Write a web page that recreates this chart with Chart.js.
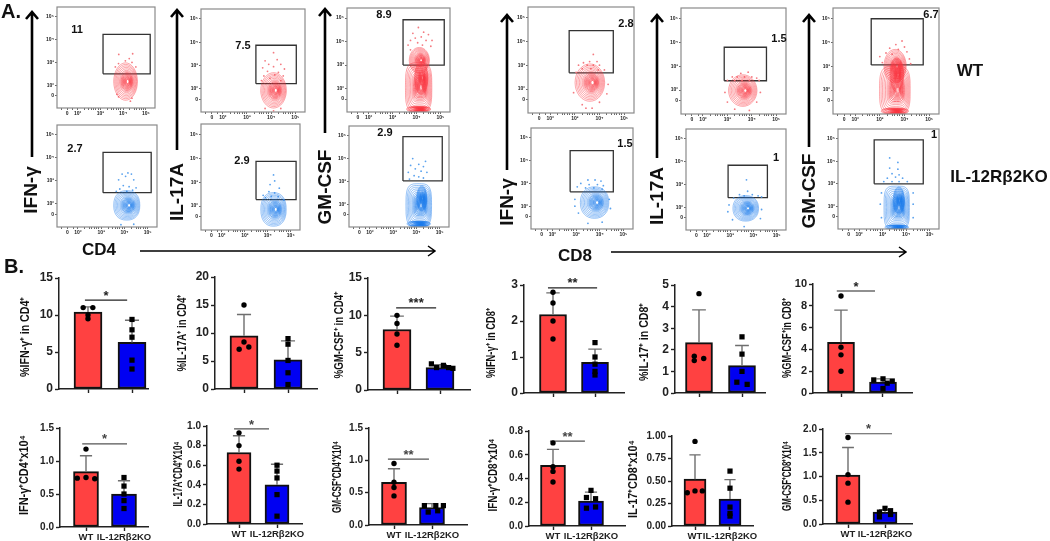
<!DOCTYPE html>
<html>
<head>
<meta charset="utf-8">
<title>Flow cytometry and bar panels</title>
<script src="https://cdn.jsdelivr.net/npm/chart.js@4/dist/chart.umd.min.js"></script>
<style>
  html, body { margin: 0; padding: 0; background: #fff; overflow: hidden; }
  /* the figure is a soft, upscaled raster, so everything gets a slight blur */
  #stage { position: relative; width: 1050px; height: 541px; font-family: 'Liberation Sans', Arial, sans-serif; filter: blur(0.4px); }
  #stage canvas { position: absolute; }
  #stage svg { position: absolute; left: 0; top: 0; }
  .lbl { position: absolute; font-weight: bold; color: #111; white-space: nowrap; }
</style>
</head>
<body>
<div id="stage">
  <svg width="1050" height="541" fill="none" stroke="#000" id="arrows"></svg>
</div>
<script>
// ---- bar panels (B.) ----
const yTitles = ['%IFN-γ⁺ in CD4⁺', '%IL-17A⁺ in CD4⁺', '%GM-CSF⁺ in CD4⁺', '%IFN-γ⁺ in CD8⁺', '%IL-17⁺ in CD8⁺', '%GM-CSF⁺in CD8⁺',
    'IFN-γ⁺CD4⁺x10⁴', 'IL-17A⁺CD4⁺X10⁴', 'GM-CSF⁺CD4⁺X10⁴', 'IFN-γ⁺CD8⁺x10⁴', 'IL-17⁺CD8⁺x10⁴', 'GM-CSF⁺CD8⁺X10⁴'];
const yTickLabels = [
    ['0', '5', '10', '15'], ['0', '5', '10', '15', '20'], ['0', '5', '10', '15'],
    ['0', '1', '2', '3'], ['0', '1', '2', '3', '4', '5'], ['0', '2', '4', '6', '8', '10'],
    ['0.0', '0.5', '1.0', '1.5'], ['0.0', '0.2', '0.4', '0.6', '0.8', '1.0'], ['0.0', '0.5', '1.0', '1.5'],
    ['0.0', '0.2', '0.4', '0.6', '0.8'], ['0.00', '0.25', '0.50', '0.75', '1.00'], ['0.0', '0.5', '1.0', '1.5', '2.0']
];
const groupLabels = ['WT', 'IL-12Rβ2KO'];
const wtMeans = [10.4, 9.5, 8.1, 2.18, 2.33, 4.65, 0.84, 0.73, 0.66, 0.51, 0.52, 1.03];
const koMeans = [6.3, 5.2, 3.0, 0.85, 1.27, 1.0, 0.5, 0.4, 0.27, 0.21, 0.3, 0.25];
const wtErrTop = [11.1, 13.3, 9.9, 2.78, 3.85, 7.6, 1.08, 0.9, 0.87, 0.645, 0.79, 1.61];
const koErrTop = [9.3, 8.6, 3.4, 1.22, 2.2, 1.3, 0.7, 0.61, 0.33, 0.285, 0.515, 0.3];
const wtPoints = [
    [11, 11, 10, 9.5], [15, 8.4, 7.5, 7.1], [10, 8.9, 7.5, 6], [2.8, 2.5, 2.0, 1.5], [4.6, 1.7, 1.6, 1.5], [8.9, 4.2, 3.5, 2.0],
    [1.18, 0.75, 0.74, 0.73], [0.93, 0.8, 0.64, 0.56], [0.95, 0.66, 0.58, 0.45], [0.7, 0.5, 0.46, 0.37], [0.94, 0.39, 0.39, 0.37], [1.82, 1.04, 0.86, 0.46]
];
const wtOffsets = [
    [-0.11, 0.11, 0, 0], [0, 0, 0.11, -0.11], [0, 0, 0, 0], [0, 0, 0, 0], [0, -0.11, 0.11, -0.11], [0, 0, 0, 0],
    [0, 0, -0.23, 0.23], [0, 0, 0, 0], [0, 0, 0, 0], [0, 0, 0, 0], [0, 0, 0.21, -0.22], [0, 0, 0, 0]
];
const koPoints = [
    [9.4, 8.0, 7.0, 3.9, 2.7], [9, 8, 5.1, 2.9, 0.8], [3.5, 3.3, 3.0, 3.0, 2.9], [1.4, 1.0, 0.8, 0.6, 0.5], [2.6, 1.8, 1.0, 0.5, 0.4], [1.3, 1.2, 1.1, 0.9, 0.4],
    [0.75, 0.62, 0.5, 0.4, 0.28], [0.6, 0.54, 0.47, 0.3, 0.08], [0.3, 0.3, 0.3, 0.22, 0.2], [0.3, 0.24, 0.23, 0.16, 0.15], [0.61, 0.42, 0.21, 0.14, 0.11], [0.33, 0.28, 0.25, 0.2, 0.15]
];
const koOffsets = [
    [0, 0, 0, 0, 0], [0, 0, 0, 0, 0], [-0.2, 0.08, -0.08, 0.2, 0.3], [0, 0, 0, 0, 0], [0, 0, 0, -0.12, 0.12], [0, -0.22, 0.22, 0.1, 0],
    [0, 0, 0, 0, 0], [0, 0, 0, 0, 0], [-0.2, 0.1, 0.3, 0.15, -0.1], [0, -0.12, 0.12, 0.12, -0.12], [0, 0, 0, 0, 0], [0, 0.15, -0.15, 0.15, -0.15]
];
const sigLines = [[-0.07, 0.89, 12.0], null, [-0.02, 0.91, 11], [-0.12, 1.05, 2.92], null, [-0.1, 0.81, 9.36],
    [-0.1, 1.08, 1.26], [-0.13, 0.79, 0.97], [-0.16, 0.92, 1.02], [-0.08, 0.84, 0.715], null, [-0.08, 1.19, 1.9]];
const sigMarks = ['*', '', '***', '**', '', '*', '*', '*', '**', '**', '', '*'];

// ---- contour panels (A.), all in decades of the biexponential axis ----
const flowTickValues = [1.55, 2, 3, 4, 5];
const flowTickLabels = ['0', '10²', '10³', '10⁴', '10⁵'];
const flowMinorTicks = [1.3, 1.8, 2.3, 2.5, 2.6, 2.7, 2.8, 2.9, 3.3, 3.5, 3.6, 3.7, 3.8, 3.9, 4.3, 4.5, 4.6, 4.7, 4.8, 4.9];
const flowPercents = ['11', '7.5', '8.9', '2.7', '2.9', '2.9', '2.8', '1.5', '6.7', '1.5', '1', '1'];
const flowGates = [
    [3.12, 5.19, 2.5, 4.23], [3.37, 5.04, 2.22, 3.87], [3.44, 5.16, 3.0, 4.93],
    [3.08, 5.15, 2.49, 4.24], [3.49, 5.23, 2.27, 3.87], [3.42, 5.11, 3.02, 4.96],
    [2.77, 4.56, 2.68, 4.44], [2.87, 4.6, 2.39, 3.79], [2.65, 4.76, 3.05, 4.98],
    [2.75, 4.57, 2.63, 4.44], [2.91, 4.6, 2.42, 3.84], [2.64, 4.73, 3.0, 4.95]
];
// one entry per contour family: centre x, centre y, radius x, radius y, squareness
const flowContours = [
    [[4.11, 2.16, 0.52, 0.82, 1]],
    [[4.1, 1.93, 0.53, 0.76, 1]],
    [[4.09, 2.05, 0.55, 1.05, 0.55], [4.12, 3.2, 0.42, 0.55, 1], [4.2, 2.45, 0.28, 0.7, 1], [4.09, 1.12, 0.5, 0.12, 0.8]],
    [[4.1, 1.94, 0.56, 0.64, 0.85]],
    [[4.25, 1.86, 0.55, 0.7, 0.85]],
    [[4.1, 1.95, 0.55, 0.95, 0.55], [4.23, 2.25, 0.22, 0.55, 1], [4.1, 1.14, 0.5, 0.12, 0.8]],
    [[3.61, 2.27, 0.6, 0.78, 1]],
    [[3.63, 1.98, 0.58, 0.66, 1]],
    [[3.61, 2.0, 0.62, 1.0, 0.55], [3.62, 3.0, 0.45, 0.7, 1], [3.69, 2.64, 0.28, 0.7, 1], [3.61, 1.12, 0.55, 0.13, 0.8]],
    [[3.78, 2.16, 0.6, 0.69, 0.9]],
    [[3.67, 1.95, 0.55, 0.56, 0.9]],
    [[3.6, 1.95, 0.54, 0.95, 0.5], [3.69, 2.26, 0.24, 0.6, 1], [3.6, 1.08, 0.5, 0.1, 0.8]]
];
const flowDots = [
    [[3.81, 3.35], [4.42, 3.38], [4.27, 3.17], [4.1, 3.07], [3.8, 2.95], [4.39, 3.0], [4.56, 2.8], [3.66, 2.8], [3.8, 1.49], [3.73, 1.6], [4.39, 1.43], [4.32, 1.3]],
    [[4.1, 3.55], [3.75, 3.2], [4.25, 3.25], [3.9, 3.05], [4.4, 3.05], [3.65, 2.9], [4.1, 2.95], [4.55, 2.85], [3.85, 2.75], [4.3, 2.7], [3.7, 2.55], [4.15, 2.6], [4.5, 2.55], [3.95, 2.45], [3.6, 2.35], [4.4, 2.35], [4.1, 1.05], [3.75, 1.15], [4.4, 1.15]],
    [[4.08, 4.6], [4.3, 4.4], [3.85, 4.35], [4.5, 4.3], [3.95, 4.15], [4.2, 4.2], [4.65, 4.05], [3.75, 4.05], [4.4, 4.05], [4.05, 3.95], [3.65, 3.85], [4.6, 3.8], [3.75, 3.65], [4.25, 3.85]],
    [[3.9, 3.3], [4.15, 3.35], [4.3, 3.3], [4.05, 3.2], [3.75, 3.05], [4.4, 3.05], [3.95, 2.8], [4.2, 2.75], [4.5, 2.7], [3.8, 2.65], [4.35, 2.6], [3.65, 2.55], [4.1, 2.55], [3.85, 1.1], [4.4, 1.12]],
    [[4.25, 3.3], [4.3, 3.05], [4.1, 2.9], [4.5, 2.75], [4.05, 2.6], [4.3, 2.55], [3.8, 2.45], [4.15, 2.4], [4.45, 2.4], [3.9, 2.35], [4.7, 2.25]],
    [[3.84, 4.0], [4.39, 3.88], [4.1, 3.75], [3.75, 3.7], [4.3, 3.65], [3.95, 3.55], [4.2, 3.45], [3.65, 3.4], [4.45, 3.4], [3.9, 3.25], [4.1, 3.2], [4.3, 3.15], [3.7, 3.1]],
    [[3.75, 3.45], [3.6, 3.15], [3.35, 3.1], [3.9, 3.15], [3.15, 3.0], [3.5, 3.0], [3.75, 3.0], [4.0, 3.0], [3.3, 2.85], [3.65, 2.85], [3.95, 2.8], [4.2, 2.8], [3.05, 2.7], [3.45, 1.2], [3.7, 1.2], [3.3, 1.35], [4.0, 1.45], [2.95, 1.85], [4.35, 2.2], [4.3, 1.8]],
    [[3.55, 2.7], [3.85, 2.75], [3.2, 2.55], [3.4, 2.55], [3.7, 2.55], [4.0, 2.55], [4.2, 2.5], [3.0, 2.4], [3.3, 2.4], [3.6, 2.4], [3.9, 2.4], [4.3, 2.4], [2.9, 1.9], [4.35, 1.9], [3.0, 1.5], [4.2, 1.5], [3.3, 1.2], [3.9, 1.15]],
    [[3.9, 4.05], [3.65, 3.9], [4.0, 3.8], [3.4, 3.75], [3.75, 3.7], [3.25, 3.55], [4.1, 3.6], [3.5, 3.5], [3.0, 3.4], [4.2, 3.3], [3.1, 3.15], [4.25, 3.1]],
    [[3.5, 3.15], [3.8, 3.15], [4.05, 3.1], [3.2, 3.0], [3.55, 2.95], [3.9, 2.95], [4.15, 2.9], [3.05, 2.85], [3.4, 2.8], [3.75, 2.8], [4.1, 2.75], [2.95, 2.3], [4.4, 2.3], [2.95, 2.0], [4.45, 1.9], [3.1, 1.7], [3.5, 1.25], [4.1, 1.3]],
    [[3.7, 3.2], [3.75, 2.7], [3.4, 2.55], [3.6, 2.5], [3.95, 2.55], [4.2, 2.5], [3.15, 2.4], [4.35, 2.45], [2.95, 2.1], [2.9, 1.8], [4.35, 1.9], [3.1, 1.45], [4.3, 1.5], [3.6, 1.15]],
    [[3.3, 4.15], [3.65, 3.95], [3.3, 3.7], [3.65, 3.65], [3.4, 3.45], [3.7, 3.4], [3.2, 3.25], [3.55, 3.3], [3.85, 3.25], [3.05, 3.1], [3.4, 3.1], [3.7, 3.1], [4.05, 3.1], [2.95, 2.6], [4.3, 2.6], [2.9, 2.1], [4.3, 2.1], [2.95, 1.5], [4.3, 1.5]]
];
const ringScale = [1, 0.92, 0.84, 0.76, 0.68, 0.6, 0.54, 0.48, 0.42, 0.37, 0.32, 0.27, 0.23, 0.19, 0.15, 0.11];

// ---- layout, page pixels ----
// axis x, right end, y of top tick, y of zero, bar centres, bar width, tick font, title x, title y, title length
const barLayout = [
    [59, 148, 278, 389, 88, 132, 28, 12, 26, 337, 80], [215, 317, 277, 389, 244, 288, 28, 12, 183, 333, 77], [368, 470, 278, 390, 397, 440, 28, 12, 340, 335, 87],
    [524, 624, 285, 393, 553, 595, 27, 12, 492, 343, 70], [675, 765, 285, 393, 699, 742, 27, 12, 645, 342, 78], [813, 912, 284, 393, 841, 883, 27, 11, 788, 338, 80],
    [60, 148, 428, 527, 86, 124, 25, 10, 25, 475, 80], [207, 302, 426, 524, 239, 277, 24, 10, 179, 474, 65], [369, 467, 428, 525, 394, 432, 25, 10, 338, 477, 72],
    [529, 625, 431, 526, 553, 591, 25, 10, 494, 475, 73], [672, 753, 436, 526, 695, 730, 22, 10, 634, 479, 78], [823, 912, 429, 524, 848, 885, 24, 10, 788, 476, 70]
];
// left, top, width, height of the plot box
const flowBoxes = [
    [57, 5, 100, 103], [201, 7, 106, 105], [347, 6, 105, 106],
    [57, 123, 102, 104], [201, 122, 101, 108], [349, 124, 102, 103],
    [528, 5, 108, 108], [681, 6, 107, 108], [833, 6, 108, 108],
    [531, 126, 104, 103], [686, 127, 102, 103], [838, 127, 103, 102]
];
const percentPos = [[77, 29], [243, 45], [384, 14], [75, 148], [242, 160], [385, 132], [626, 23], [779, 38], [931, 14], [625, 143], [776, 157], [934, 134]];
// text, centre x, centre y, font size, rotated
const pageLabels = [
    ['A.', 11, 11, 20, false], ['B.', 14, 266, 20, false],
    ['IFN-γ', 31, 190, 19, true], ['IL-17A', 177, 192, 19, true], ['GM-CSF', 325, 187, 19, true],
    ['IFN-γ', 507, 202, 19, true], ['IL-17A', 657, 196, 19, true], ['GM-CSF', 809, 191, 19, true],
    ['CD4', 99, 250, 17, false], ['CD8', 575, 256, 17, false],
    ['WT', 970, 71, 17, false], ['IL-12Rβ2KO', 999, 177, 17, false]
];
const upArrows = [[32, 157, 12], [177, 150, 10], [325, 133, 9], [507, 170, 15], [657, 158, 15], [809, 147, 15]];
const rightArrows = [[140, 435, 251], [611, 906, 252]];

const stage = document.getElementById('stage');
const FONT = "'Liberation Sans', Arial, sans-serif";
// a tiny tension keeps Chart.js off its fast path, which assumes points sorted on x
const CLOSED_PATH_TENSION = 0.0001;
Chart.defaults.font.family = FONT;
Chart.defaults.animation = false;

function addCanvas(left, top, width, height) {
    const c = document.createElement('canvas');
    c.width = width;
    c.height = height;
    c.style.left = left + 'px';
    c.style.top = top + 'px';
    c.style.width = width + 'px';
    c.style.height = height + 'px';
    stage.appendChild(c);
    return c;
}

function addLabel(text, x, y, size, rotated) {
    const d = document.createElement('div');
    d.className = 'lbl';
    d.textContent = text;
    d.style.left = x + 'px';
    d.style.top = y + 'px';
    d.style.fontSize = size + 'px';
    d.style.transform = 'translate(-50%,-50%)' + (rotated ? ' rotate(-90deg)' : '');
    stage.appendChild(d);
}

function ringPoints(group, scale) {
    const pts = [];
    const p = group[4];
    // inner rings drift towards the peak, which sits right of centre in every panel
    const cx = group[0] + group[2] * 0.2 * (1 - scale);
    for (let k = 0; k <= 32; k++) {
        const t = k / 32 * 2 * Math.PI;
        const c = Math.cos(t), s = Math.sin(t);
        pts.push({
            x: cx + group[2] * scale * Math.sign(c) * Math.pow(Math.abs(c), p),
            y: group[1] + group[3] * scale * Math.sign(s) * Math.pow(Math.abs(s), p)
        });
    }
    return pts;
}

function drawFlowPanel(i) {
    const box = flowBoxes[i];
    const ko = (i >= 3 && i < 6) || i >= 9;
    const ringColor = ko ? 'rgba(30,125,235,0.8)' : 'rgba(250,55,65,0.8)';
    const dotColor = ko ? '#5aa2ee' : '#f47a80';
    const marginL = 16, marginB = 14, pad = 2;
    const canvas = addCanvas(box[0] - marginL, box[1] - pad, box[2] + marginL + pad, box[3] + marginB + pad);

    const datasets = [];
    flowContours[i].forEach(function(group) {
        ringScale.forEach(function(scale) {
            datasets.push({
                data: ringPoints(group, scale),
                showLine: true,
                tension: CLOSED_PATH_TENSION,
                pointRadius: 0,
                borderWidth: scale < 0.5 ? 0.9 : 0.6,
                borderColor: ringColor
            });
        });
    });
    datasets.push({
        data: flowDots[i].map(function(d) { return { x: d[0], y: d[1] }; }),
        pointRadius: 0.9,
        pointBorderWidth: 0,
        pointBackgroundColor: dotColor
    });
    const g = flowGates[i];
    datasets.push({
        data: [{ x: g[0], y: g[2] }, { x: g[1], y: g[2] }, { x: g[1], y: g[3] }, { x: g[0], y: g[3] }, { x: g[0], y: g[2] }],
        showLine: true,
        tension: CLOSED_PATH_TENSION,
        pointRadius: 0,
        borderWidth: 1.3,
        borderColor: '#333'
    });

    const axis = function(min, max, minors, fit) {
        return {
            type: 'linear',
            min: min,
            max: max,
            afterBuildTicks: function(scale) {
                scale.ticks = flowTickValues.concat(minors).map(function(v) { return { value: v }; });
            },
            afterFit: fit,
            grid: { drawOnChartArea: false, drawTicks: true, tickLength: 2, tickWidth: 0.8, tickColor: '#444' },
            border: { display: false },
            ticks: {
                autoSkip: false,
                maxRotation: 0,
                padding: 1,
                color: '#222',
                font: { size: 5, weight: 'bold' },
                callback: function(v) {
                    const k = flowTickValues.indexOf(v);
                    return k < 0 ? '' : flowTickLabels[k];
                }
            }
        };
    };

    new Chart(canvas, {
        type: 'scatter',
        data: { datasets: datasets },
        options: {
            responsive: false,
            layout: { padding: { top: pad, right: pad, left: 0, bottom: 0 } },
            plugins: { legend: { display: false }, tooltip: { enabled: false } },
            scales: {
                x: axis(1.1, 5.4, flowMinorTicks, function(s) { s.height = marginB; s.paddingLeft = 0; s.paddingRight = 0; }),
                y: axis(1.0, 5.43, [], function(s) { s.width = marginL; s.paddingTop = 0; s.paddingBottom = 0; })
            }
        },
        plugins: [{
            id: 'frame',
            afterDatasetsDraw: function(chart) {
                const a = chart.chartArea;
                const ctx = chart.ctx;
                ctx.save();
                ctx.strokeStyle = '#8a8a8a';
                ctx.lineWidth = 1.2;
                ctx.strokeRect(a.left, a.top, a.right - a.left, a.bottom - a.top);
                ctx.restore();
            }
        }]
    });
}

function drawBarPanel(i) {
    const L = barLayout[i];
    const axisX = L[0], right = L[1], yTop = L[2], yZero = L[3], c0 = L[4], c1 = L[5];
    const spacing = c1 - c0;
    const marginL = 46, marginB = 18, marginT = 14, marginR = 12;
    const canvas = addCanvas(axisX - marginL, yTop - marginT, right - axisX + marginL + marginR, yZero - yTop + marginT + marginB);
    const labels = yTickLabels[i];
    const yValues = labels.map(Number);
    const capHalf = 0.16;

    const errorLine = function(x, mean, top) {
        return {
            type: 'scatter',
            order: 2,
            data: [{ x: x, y: mean }, { x: x, y: top }, { x: x - capHalf, y: top }, { x: x + capHalf, y: top }],
            showLine: true,
            tension: CLOSED_PATH_TENSION,
            pointRadius: 0,
            borderWidth: 1.4,
            borderColor: '#6e6e6e',
            clip: false
        };
    };
    const points = function(x, values, offsets, style, radius) {
        return {
            type: 'scatter',
            order: 1,
            data: values.map(function(v, k) { return { x: x + offsets[k], y: v }; }),
            pointStyle: style,
            pointRadius: radius,
            pointBorderWidth: 0,
            pointBackgroundColor: '#000',
            clip: false
        };
    };

    const datasets = [
        {
            type: 'bar',
            order: 3,
            data: [{ x: 0, y: wtMeans[i] }, { x: 1, y: koMeans[i] }],
            barThickness: L[6],
            backgroundColor: ['#ff4141', '#0000f2'],
            borderColor: '#111',
            borderWidth: 2,
            borderSkipped: false
        },
        errorLine(0, wtMeans[i], wtErrTop[i]),
        errorLine(1, koMeans[i], koErrTop[i]),
        points(0, wtPoints[i], wtOffsets[i], 'circle', 2.7),
        points(1, koPoints[i], koOffsets[i], 'rect', 3.7)
    ];
    const sig = sigLines[i];
    if (sig) {
        datasets.push({
            type: 'scatter',
            order: 1,
            data: [{ x: sig[0], y: sig[2] }, { x: sig[1], y: sig[2] }],
            showLine: true,
            pointRadius: 0,
            borderWidth: 1.2,
            borderColor: i < 6 ? '#222' : '#555',
            clip: false
        });
    }

    new Chart(canvas, {
        type: 'bar',
        data: { datasets: datasets },
        options: {
            responsive: false,
            layout: { padding: { top: marginT, right: marginR, left: 0, bottom: 0 } },
            plugins: { legend: { display: false }, tooltip: { enabled: false } },
            scales: {
                x: {
                    type: 'linear',
                    offset: false,
                    min: (axisX - c0) / spacing,
                    max: (right - c0) / spacing,
                    afterBuildTicks: function(scale) {
                        scale.ticks = [{ value: 0 }, { value: 1 }];
                    },
                    afterFit: function(s) { s.height = marginB; s.paddingLeft = 0; s.paddingRight = 0; },
                    grid: { offset: false, drawOnChartArea: false, tickLength: 4, tickWidth: 1.4, tickColor: '#222' },
                    border: { color: '#222', width: 1.5 },
                    ticks: {
                        autoSkip: false,
                        maxRotation: 0,
                        padding: 1,
                        color: '#222',
                        font: { size: 9.5, weight: 'bold' },
                        callback: function(v) { return i < 6 ? '' : groupLabels[v]; }
                    }
                },
                y: {
                    min: 0,
                    max: yValues[yValues.length - 1],
                    afterBuildTicks: function(scale) {
                        scale.ticks = yValues.map(function(v) { return { value: v }; });
                    },
                    afterFit: function(s) { s.width = marginL; s.paddingTop = 0; s.paddingBottom = 0; },
                    grid: { drawOnChartArea: false, tickLength: 4, tickWidth: 1.4, tickColor: '#222' },
                    border: { color: '#222', width: 1.5 },
                    ticks: {
                        padding: 2,
                        color: '#222',
                        font: { size: L[7], weight: 'bold' },
                        callback: function(v, idx) { return labels[idx]; }
                    }
                }
            }
        },
        plugins: [{
            id: 'panelText',
            afterDraw: function(chart) {
                const ctx = chart.ctx;
                ctx.save();
                // y title goes where the figure has it, squeezed to the same length
                ctx.translate(L[8] - (axisX - marginL), L[9] - (yTop - marginT));
                ctx.rotate(-Math.PI / 2);
                ctx.fillStyle = '#111';
                ctx.font = 'bold 12px ' + FONT;
                ctx.textAlign = 'center';
                ctx.textBaseline = 'middle';
                ctx.fillText(yTitles[i], 0, 0, L[10]);
                ctx.restore();
                if (sig && sigMarks[i]) {
                    ctx.save();
                    ctx.fillStyle = i < 6 ? '#222' : '#444';
                    ctx.font = 'bold 13px ' + FONT;
                    ctx.textAlign = 'center';
                    ctx.textBaseline = 'middle';
                    ctx.fillText(sigMarks[i], chart.scales.x.getPixelForValue((sig[0] + sig[1]) / 2), chart.scales.y.getPixelForValue(sig[2]) - 4);
                    ctx.restore();
                }
            }
        }]
    });
}

for (let i = 0; i < flowBoxes.length; i++) {
    drawFlowPanel(i);
    addLabel(flowPercents[i], percentPos[i][0], percentPos[i][1], 11, false);
}
for (let i = 0; i < barLayout.length; i++) {
    drawBarPanel(i);
}
pageLabels.forEach(function(l) { addLabel(l[0], l[1], l[2], l[3], l[4]); });

let arrowPaths = '';
upArrows.forEach(function(a) {
    arrowPaths += '<path stroke-width="2.6" d="M' + a[0] + ' ' + a[1] + 'V' + a[2] + 'M' + (a[0] - 6) + ' ' + (a[2] + 7) + 'L' + a[0] + ' ' + a[2] + 'L' + (a[0] + 6) + ' ' + (a[2] + 7) + '"/>';
});
rightArrows.forEach(function(a) {
    arrowPaths += '<path stroke-width="1.5" d="M' + a[0] + ' ' + a[2] + 'H' + a[1] + 'M' + (a[1] - 7) + ' ' + (a[2] - 5) + 'L' + a[1] + ' ' + a[2] + 'L' + (a[1] - 7) + ' ' + (a[2] + 5) + '"/>';
});
document.getElementById('arrows').innerHTML = arrowPaths;
</script>
</body>
</html>
